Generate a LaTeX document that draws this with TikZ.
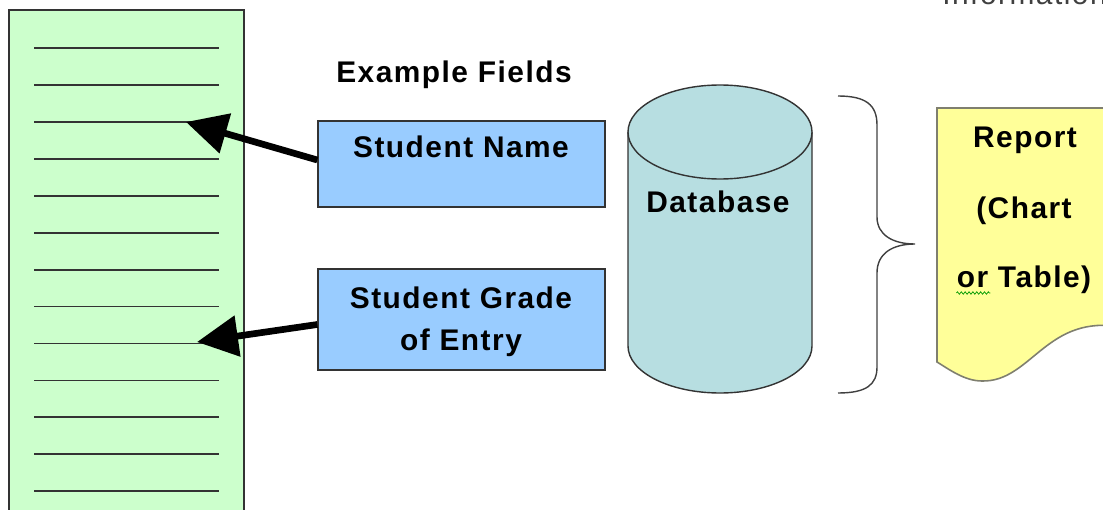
\documentclass[tikz,border=0pt]{standalone}
\usepackage{fontspec}
\setmainfont{Liberation Sans}[LetterSpace=5]
\usetikzlibrary{arrows.meta,decorations.pathmorphing}
\definecolor{sheetgreen}{HTML}{CCFFCC}
\definecolor{fieldblue}{HTML}{99CCFF}
\definecolor{dbcyan}{HTML}{B7DEE1}
\definecolor{reportyellow}{HTML}{FFFF99}
\definecolor{edgegray}{HTML}{333333}
\definecolor{reportedge}{HTML}{7F7F6F}
\begin{document}
\begin{tikzpicture}[x=0.02cm,y=-0.02cm,>={Triangle[length=0.82cm,width=0.8cm]},
	txt/.style={font=\fontsize{17}{20}\selectfont\bfseries,inner sep=0pt,anchor=base},
	field/.style={draw=edgegray,line width=0.8pt,fill=fieldblue,minimum width=5.74cm,inner sep=0pt},
	fat/.style={->,line width=3.8pt}]
	\useasboundingbox (0,0) rectangle (1103,510);
	% sheet
	\draw[edgegray,line width=0.9pt,fill=sheetgreen] (9,10) rectangle (244,530);
	\foreach \k in {0,...,12}
		\draw[edgegray,line width=0.95pt] (34,48.3+36.9*\k) -- (219,48.3+36.9*\k);
	\coordinate (tip1) at (186,122);
	\coordinate (tip2) at (197,342);
	% fields
	\node[txt] (title) at (454,83) {Example Fields};
	\node[field,minimum height=1.72cm] (name) at (461.5,164) {};
	\node[field,minimum height=2.02cm] (grade) at (461.5,319.5) {};
	\node[txt] (namelbl) at (461,158) {Student Name};
	\node[txt] (gradelbl) at (461,308) {Student Grade};
	\node[txt] (entrylbl) at (461,350) {of Entry};
	\draw[fat] ([yshift=0.08cm]name.west) -- (tip1);
	\draw[fat] ([yshift=-0.1cm]grade.west) -- (tip2);
	% database
	\draw[edgegray,line width=0.8pt,fill=dbcyan] (628,132) -- (628,346) arc[start angle=180,end angle=0,x radius=92,y radius=47] -- (812,132);
	\draw[edgegray,line width=0.8pt,fill=dbcyan] (720,132) ellipse[x radius=92,y radius=47];
	\node[txt] (db) at (718,213) {Database};
	% brace
	\draw[black!75,line width=0.8pt] (838,96) .. controls (866,96) and (877,105) .. (877,125) -- (877,217)
		.. controls (877,235) and (893,244) .. (915,244) .. controls (893,244) and (877,253) .. (877,273) -- (877,367)
		.. controls (877,385) and (866,393) .. (838,393);
	% report
	\draw[reportedge,line width=0.9pt,fill=reportyellow] (937,362) -- (937,108) -- (1115,108) -- (1115,326)
		.. controls (1045,318) and (1030,382) .. (982,381) .. controls (965,381) and (950,370) .. (937,362) -- cycle;
	\node[txt] (rep1) at (1025,148) {Report};
	\node[txt] (rep2) at (1024,218) {(Chart};
	\node[txt] (rep3) at (1024,287) {or Table)};
	\draw[green!60!black,line width=0.4pt,decorate,decoration={zigzag,segment length=2.2pt,amplitude=0.7pt}]
		([yshift=-0.12cm]rep3.base west) -- ++(34,0);
	\node[font=\fontsize{17}{20}\selectfont,text=darkgray,inner sep=0pt,anchor=base west] (info) at (942,5) {Information};
\end{tikzpicture}
\end{document}
